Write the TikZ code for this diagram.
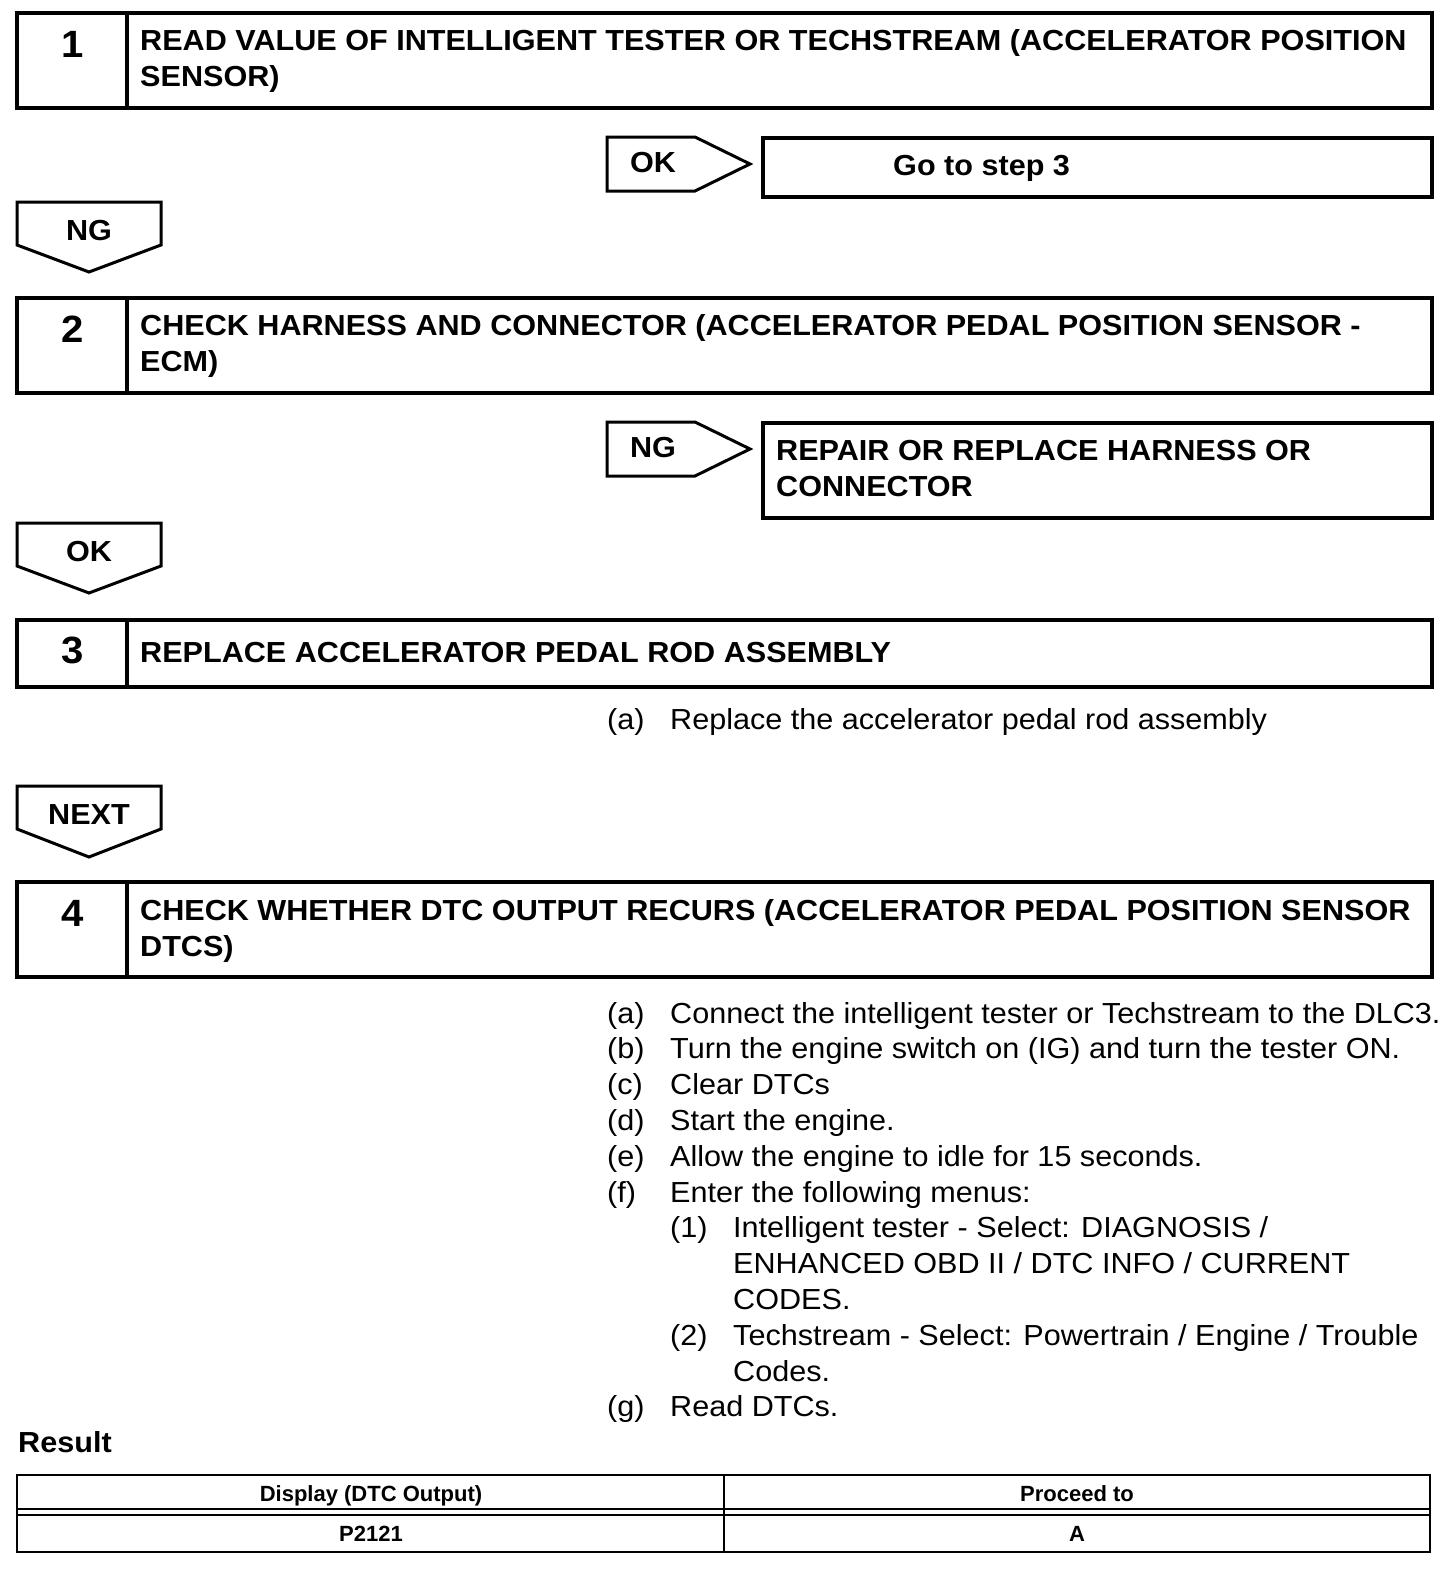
\documentclass[tikz,border=0pt]{standalone}
\usepackage{fontspec}
\setmainfont[FakeStretch=1.055]{Liberation Sans}
\newfontfamily\tabfont{Liberation Sans}
\begin{document}
\begin{tikzpicture}[x=1pt,y=-1pt,
  stepframe/.style={line width=3.5pt},
  tagframe/.style={line width=3pt,line join=miter},
  tabframe/.style={line width=2.5pt},
  title/.style={anchor=base west,inner sep=0pt,font=\fontsize{29}{34}\selectfont\bfseries},
  num/.style={anchor=base,inner sep=0pt,font=\fontsize{38}{44}\selectfont\bfseries},
  body/.style={anchor=base west,inner sep=0pt,font=\fontsize{29}{34}\selectfont},
  tag/.style={inner sep=0pt,font=\fontsize{29}{34}\selectfont\bfseries},
  cell/.style={anchor=base,inner sep=0pt,font=\tabfont\fontsize{22}{26}\selectfont\bfseries}]
\useasboundingbox (0,0) rectangle (1456,1572);
% step 1
\draw[stepframe] (17,13) rectangle (1432,108) (127,13) -- (127,108);
\node[num] (n1) at (73,57) {1};
\node[title] (t1a) at (140,50) {READ VALUE OF INTELLIGENT TESTER OR TECHSTREAM (ACCELERATOR POSITION};
\node[title] (t1b) at (140,86) {SENSOR)};
\draw[tagframe] (607,137) -- (695,137) -- (750,164) -- (695,191) -- (607,191) -- cycle;
\node[tag] (ok1) at (653,163) {OK};
\draw[stepframe] (763,138) rectangle (1432,197);
\node[title] (go3) at (893,175) {Go to step 3};
\draw[tagframe] (17,202) -- (161,202) -- (161,245) -- (89,272) -- (17,245) -- cycle;
\node[tag] (ng1) at (89,231) {NG};
% step 2
\draw[stepframe] (17,298) rectangle (1432,393) (127,298) -- (127,393);
\node[num] (n2) at (73,342) {2};
\node[title] (t2a) at (140,335) {CHECK HARNESS AND CONNECTOR (ACCELERATOR PEDAL POSITION SENSOR -};
\node[title] (t2b) at (140,371) {ECM)};
\draw[tagframe] (607,422) -- (695,422) -- (750,449) -- (695,476) -- (607,476) -- cycle;
\node[tag] (ng2) at (653,448) {NG};
\draw[stepframe] (763,423) rectangle (1432,518);
\node[title] (rp1) at (776,460) {REPAIR OR REPLACE HARNESS OR};
\node[title] (rp2) at (776,496) {CONNECTOR};
\draw[tagframe] (17,523) -- (161,523) -- (161,566) -- (89,593) -- (17,566) -- cycle;
\node[tag] (ok2) at (89,552) {OK};
% step 3
\draw[stepframe] (17,620) rectangle (1432,687) (127,620) -- (127,687);
\node[num] (n3) at (73,663) {3};
\node[title] (t3) at (140,662) {REPLACE ACCELERATOR PEDAL ROD ASSEMBLY};
\node[body] (a3) at (607,729) {(a)};
\node[body] (a3t) at (670,729) {Replace the accelerator pedal rod assembly};
\draw[tagframe] (17,786) -- (161,786) -- (161,829) -- (89,857) -- (17,829) -- cycle;
\node[tag] (nx) at (89,815) {NEXT};
% step 4
\draw[stepframe] (17,882) rectangle (1432,977) (127,882) -- (127,977);
\node[num] (n4) at (73,926) {4};
\node[title] (t4a) at (140,920) {CHECK WHETHER DTC OUTPUT RECURS (ACCELERATOR PEDAL POSITION SENSOR};
\node[title] (t4b) at (140,956) {DTCS)};
\node[body] (la) at (607,1023) {(a)};
\node[body] (ta) at (670,1023) {Connect the intelligent tester or Techstream to the DLC3.};
\node[body] (lb) at (607,1058.8) {(b)};
\node[body] (tb) at (670,1058.8) {Turn the engine switch on (IG) and turn the tester ON.};
\node[body] (lc) at (607,1094.6) {(c)};
\node[body] (tc) at (670,1094.6) {Clear DTCs};
\node[body] (ld) at (607,1130.4) {(d)};
\node[body] (td) at (670,1130.4) {Start the engine.};
\node[body] (le) at (607,1166.2) {(e)};
\node[body] (te) at (670,1166.2) {Allow the engine to idle for 15 seconds.};
\node[body] (lf) at (607,1202) {(f)};
\node[body] (tf) at (670,1202) {Enter the following menus:};
\node[body] (l1) at (670,1237.8) {(1)};
\node[body] (s1a) at (733,1237.8) {Intelligent tester - Select: DIAGNOSIS /};
\node[body] (s1b) at (733,1273.6) {ENHANCED OBD II / DTC INFO / CURRENT};
\node[body] (s1c) at (733,1309.4) {CODES.};
\node[body] (l2) at (670,1345.2) {(2)};
\node[body] (s2a) at (733,1345.2) {Techstream - Select: Powertrain / Engine / Trouble};
\node[body] (s2b) at (733,1381) {Codes.};
\node[body] (lg) at (607,1416.8) {(g)};
\node[body] (tg) at (670,1416.8) {Read DTCs.};
% result table
\node[title] (res) at (18,1452) {Result};
\draw[tabframe] (17,1475) rectangle (1430,1552) (724,1475) -- (724,1552)
  (17,1509) -- (1430,1509) (17,1515) -- (1430,1515);
\node[cell] (h1) at (371,1501) {Display (DTC Output)};
\node[cell] (h2) at (1077,1501) {Proceed to};
\node[cell] (c1) at (371,1541) {P2121};
\node[cell] (c2) at (1077,1541) {A};
\end{tikzpicture}
\end{document}
